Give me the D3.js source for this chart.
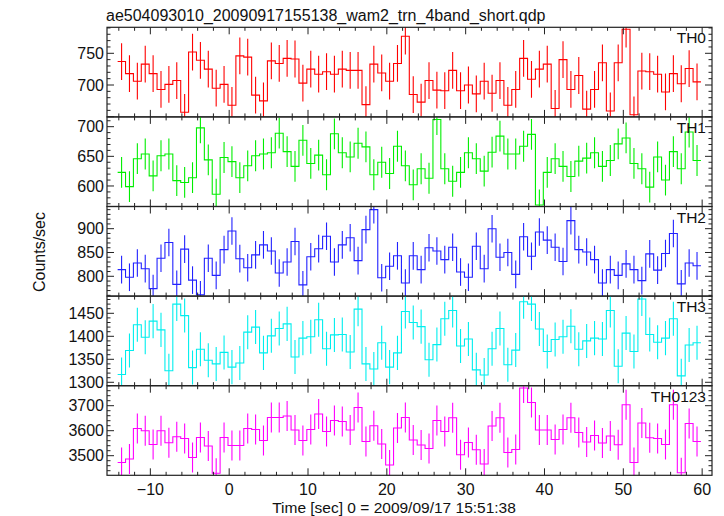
<!DOCTYPE html>
<html><head><meta charset="utf-8">
<script src="https://cdn.jsdelivr.net/npm/d3@7"></script>
<style>
html,body{margin:0;padding:0;background:#fff;}
svg{display:block;}
text{font-family:"Liberation Sans",Arial,Helvetica,sans-serif;fill:#111;}
</style></head>
<body>
<svg id="chart" width="724" height="516"></svg>
<script>
// ---- data ----
const titleText = "ae504093010_20090917155138_wam2_trn_4band_short.qdp";
const xLabel = "Time [sec] 0 = 2009/09/17 15:51:38";
const yLabel = "Counts/sec";
const panelNames = ["TH0", "TH1", "TH2", "TH3", "TH0123"];
const binStart = -14.15;   // left edge of first 1-s bin
const binWidth = 1;
const xTicks = [-10, 0, 10, 20, 30, 40, 50, 60];

const th0 = [737,718,706,733,718,693,701,707,657,752,739,725,695,701,668,746,744,684,675,738,
  734,742,741,703,725,717,721,717,725,723,723,669,733,719,706,734,777,685,673,707,
  692,691,723,691,700,686,706,687,707,668,693,742,709,725,733,663,740,693,715,662,
  693,735,659,735,788,653,722,721,717,689,718,702,726,705];
const th1 = [623,599,646,654,617,651,654,609,606,614,698,644,586,648,641,614,634,651,654,656,
  689,658,633,677,638,652,619,688,656,649,672,666,619,640,621,667,634,602,629,613,
  712,629,608,623,656,646,625,657,684,654,654,667,687,568,623,646,633,616,642,647,
  656,633,643,671,681,638,629,598,649,610,658,629,691,643];
const th2 = [814,798,828,816,774,838,871,783,857,792,761,838,802,856,895,837,818,845,866,853,
  807,830,873,782,841,858,884,830,866,881,833,898,940,797,821,843,786,843,814,860,
  853,835,861,809,798,863,816,900,840,850,804,883,842,893,876,861,831,917,856,851,
  835,786,814,802,826,814,791,847,813,848,890,784,828,822];
const th3 = [1317,1369,1425,1398,1433,1414,1325,1470,1445,1332,1372,1348,1340,1365,1333,1342,1409,1420,1364,1401,
  1417,1427,1355,1396,1399,1436,1373,1403,1404,1366,1459,1340,1329,1386,1333,1364,1454,1430,1421,1349,
  1382,1438,1456,1379,1394,1327,1316,1373,1417,1338,1370,1475,1470,1416,1367,1393,1399,1422,1372,1390,
  1396,1394,1456,1335,1407,1367,1481,1404,1387,1396,1438,1314,1381,1386];
const th0123 = [3473,3487,3609,3600,3545,3600,3552,3576,3569,3493,3573,3539,3430,3573,3541,3541,3609,3605,3561,3653,
  3653,3659,3603,3561,3605,3667,3597,3641,3637,3603,3693,3557,3620,3547,3463,3611,3653,3563,3543,3529,
  3641,3597,3652,3504,3553,3524,3467,3619,3652,3513,3525,3771,3713,3603,3603,3565,3605,3652,3593,3555,
  3581,3551,3579,3544,3704,3473,3631,3572,3569,3545,3704,3432,3629,3557];
const seriesValues = [th0, th1, th2, th3, th0123];
const errHalf = [29, 26, 29, 37, 60];        // typical error-bar half length
const yDomains = [[649.7, 791], [565.4, 716.5], [758.4, 946.6], [1292.6, 1487.4], [3421.6, 3780]];
const yTickLabels = [[700, 750], [600, 650, 700], [800, 850, 900], [1300, 1350, 1400, 1450], [3500, 3600, 3700]];
const yMinorStep = [10, 10, 10, 10, 20];
const yMajorStep = [50, 50, 50, 50, 100];
const colors = ["#ff0000", "#00ee00", "#2222ff", "#00eeee", "#ff00ff"];

// ---- layout ----
const svg = d3.select("#chart");
const left = 107, right = 712, top0 = 27.3, panelH = 89.6;
const x = d3.scaleLinear().domain([-15.5, 61.25]).range([left, right]);
const n = th0.length;
const frameColor = "#222";

svg.append("text").attr("x", 106).attr("y", 21).attr("font-size", 16).text(titleText);

seriesValues.forEach((vals, p) => {
  const y0 = top0 + p * panelH, y1 = y0 + panelH;
  const y = d3.scaleLinear().domain(yDomains[p]).range([y1, y0]);
  const g = svg.append("g");
  const clipId = "clip" + p;
  svg.append("clipPath").attr("id", clipId).append("rect")
    .attr("x", left).attr("y", y0).attr("width", right - left).attr("height", panelH);

  const pts = vals.map((v, i) => [binStart + i * binWidth, v]);
  pts.push([binStart + n * binWidth, vals[n - 1]]);
  const line = d3.line().x(d => x(d[0])).y(d => y(d[1])).curve(d3.curveStepAfter);
  const dg = g.append("g").attr("clip-path", `url(#${clipId})`);
  dg.append("path").attr("d", line(pts)).attr("fill", "none")
    .attr("stroke", colors[p]).attr("stroke-width", 1.1);
  dg.selectAll("line.err").data(vals).enter().append("line")
    .attr("x1", (d, i) => x(binStart + (i + 0.5) * binWidth))
    .attr("x2", (d, i) => x(binStart + (i + 0.5) * binWidth))
    .attr("y1", d => y(d - errHalf[p])).attr("y2", d => y(d + errHalf[p]))
    .attr("stroke", colors[p]).attr("stroke-width", 1.1);

  // frame
  g.append("rect").attr("x", left).attr("y", y0).attr("width", right - left).attr("height", panelH)
    .attr("fill", "none").attr("stroke", frameColor).attr("stroke-width", 1.2);

  // x ticks (top & bottom, inward)
  const xt = d3.range(-14, 62, 2);
  xt.forEach(t => {
    const len = (t % 10 === 0) ? 7 : 3.5;
    const xx = x(t);
    g.append("line").attr("x1", xx).attr("x2", xx).attr("y1", y0).attr("y2", y0 + len)
      .attr("stroke", frameColor).attr("stroke-width", 1);
    g.append("line").attr("x1", xx).attr("x2", xx).attr("y1", y1).attr("y2", y1 - len)
      .attr("stroke", frameColor).attr("stroke-width", 1);
  });
  // y ticks (left & right, inward)
  const d0 = yDomains[p][0], d1 = yDomains[p][1], ms = yMinorStep[p];
  for (let v = Math.ceil(d0 / ms) * ms; v <= d1; v += ms) {
    const major = (Math.round(v) % yMajorStep[p] === 0);
    const len = major ? 7 : 3.5;
    const yy = y(v);
    g.append("line").attr("x1", left).attr("x2", left + len).attr("y1", yy).attr("y2", yy)
      .attr("stroke", frameColor).attr("stroke-width", 1);
    g.append("line").attr("x1", right).attr("x2", right - len).attr("y1", yy).attr("y2", yy)
      .attr("stroke", frameColor).attr("stroke-width", 1);
  }
  yTickLabels[p].forEach(v => {
    g.append("text").attr("x", 104).attr("y", y(v)).attr("dy", "0.36em")
      .attr("text-anchor", "end").attr("font-size", 16).text(v);
  });
  g.append("text").attr("x", 706).attr("y", y0 + 16).attr("text-anchor", "end")
    .attr("font-size", 15.5).text(panelNames[p]);

  if (p === seriesValues.length - 1) {
    xTicks.forEach(t => {
      g.append("text").attr("x", x(t)).attr("y", y1 + 20).attr("text-anchor", "middle")
        .attr("font-size", 16).text(t < 0 ? "\u2212" + Math.abs(t) : t);
    });
  }
});

svg.append("text").attr("x", 394).attr("y", 513).attr("text-anchor", "middle")
  .attr("font-size", 15.5).text(xLabel);
svg.append("text").attr("transform", "translate(45,252) rotate(-90)").attr("text-anchor", "middle")
  .attr("font-size", 16).text(yLabel);
</script>
</body></html>
